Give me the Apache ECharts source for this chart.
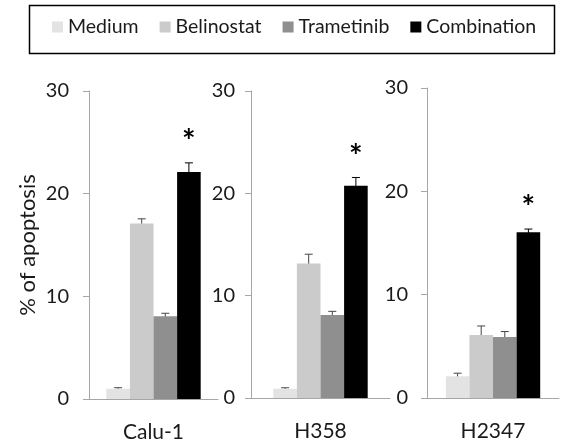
<!DOCTYPE html>
<html><head><meta charset="utf-8">
<script src="https://cdn.jsdelivr.net/npm/echarts@6/dist/echarts.min.js"></script>
<style>html,body{margin:0;padding:0;background:#fff}#c{width:566px;height:444px}</style>
</head><body><div id="c"></div>
<script>
const cellLines = ['Calu-1', 'H358', 'H2347'];
const treatments = ['Medium', 'Belinostat', 'Trametinib', 'Combination'];
const colors = ['#e3e3e3', '#cbcbcb', '#8f8f8f', '#000000'];
// values per cell line, order: Medium, Belinostat, Trametinib, Combination
const caluValues = [1.0, 17.1, 8.05, 22.1];
const caluErrors = [0.1, 0.45, 0.3, 0.9];
const h358Values = [0.9, 13.15, 8.1, 20.75];
const h358Errors = [0.1, 0.9, 0.37, 0.8];
const h2347Values = [2.1, 6.1, 5.9, 16.05];
const h2347Errors = [0.3, 0.87, 0.53, 0.3];
const significant = [false, false, false, true];
const yTicks = [0, 10, 20, 30];

const values = [caluValues, h358Values, h2347Values];
const errors = [caluErrors, h358Errors, h2347Errors];
const grids = [
  {left: 89, width: 129, top: 91, height: 308},
  {left: 251, width: 139, top: 91, height: 307},
  {left: 427, width: 132, top: 88, height: 310}
];
const labelMargins = [20, 16, 19];
const FONT = 'Lato, "Open Sans", sans-serif';
const chart = echarts.init(document.getElementById('c'));
const series = [];
const xAxis = [], yAxis = [];
grids.forEach((g, gi) => {
  xAxis.push({type: 'category', gridIndex: gi, data: [cellLines[gi]],
    axisLine: {lineStyle: {color: '#a6a6a6', width: 1}}, axisTick: {show: false},
    axisLabel: {fontSize: 21, color: '#1a1a1a', margin: 23, fontFamily: FONT}});
  yAxis.push({type: 'value', gridIndex: gi, min: yTicks[0], max: yTicks[yTicks.length - 1], interval: 10,
    name: gi === 0 ? '% of apoptosis' : '', nameLocation: 'middle', nameGap: 50, nameRotate: 90,
    nameTextStyle: {fontSize: 22, color: '#1a1a1a', fontFamily: FONT},
    axisLine: {show: true, lineStyle: {color: '#a6a6a6', width: 1}},
    axisTick: {show: true, length: 6, lineStyle: {color: '#a6a6a6'}},
    splitLine: {show: false},
    axisLabel: {fontSize: 20, color: '#1a1a1a', margin: labelMargins[gi], fontFamily: FONT}});
  treatments.forEach((t, ti) => {
    series.push({type: 'bar', name: t, xAxisIndex: gi, yAxisIndex: gi,
      data: [values[gi][ti]], barWidth: 23.6, barGap: '0%',
      itemStyle: {color: colors[ti]}, animation: false});
  });
  // error bars + significance stars
  series.push({type: 'custom', xAxisIndex: gi, yAxisIndex: gi, animation: false, silent: true,
    data: treatments.map((t, ti) => [0, values[gi][ti], errors[gi][ti], ti]),
    renderItem: function (params, api) {
      const v = api.value(1), e = api.value(2), ti = api.value(3);
      const center = api.coord([0, 0]);
      const bw = 23.6;
      const x = center[0] + (ti - 1.5) * bw;
      const top = api.coord([0, v + e])[1];
      const bot = api.coord([0, v - e])[1];
      const col = ti === 3 ? '#000' : '#444';
      const children = [
        {type: 'line', shape: {x1: x, y1: top, x2: x, y2: bot}, style: {stroke: col, lineWidth: 1}},
        {type: 'line', shape: {x1: x - 4, y1: top, x2: x + 4, y2: top}, style: {stroke: col, lineWidth: 1}},
        {type: 'line', shape: {x1: x - 4, y1: bot, x2: x + 4, y2: bot}, style: {stroke: col, lineWidth: 1}}
      ];
      if (significant[ti]) {
        children.push({type: 'text', x: x, y: top - 20,
          style: {text: '*', fontSize: 32, fontWeight: 'bold', fontFamily: FONT, fill: '#000', align: 'center', verticalAlign: 'middle'}});
      }
      return {type: 'group', children: children};
    }
  });
});

chart.setOption({
  animation: false,
  textStyle: {fontFamily: FONT},
  graphic: [{type: 'rect', left: 27, top: 3, shape: {width: 525, height: 48},
    style: {fill: 'none', stroke: '#000', lineWidth: 1.5}, z: 10}],
  grid: grids,
  xAxis: xAxis,
  yAxis: yAxis,
  legend: {data: treatments, left: 52, top: 17, padding: 0,
    itemWidth: 11, itemHeight: 11, itemGap: 21, icon: 'rect',
    textStyle: {fontSize: 19.5, color: '#1a1a1a', fontFamily: FONT}},
  series: series
});
</script></body></html>
